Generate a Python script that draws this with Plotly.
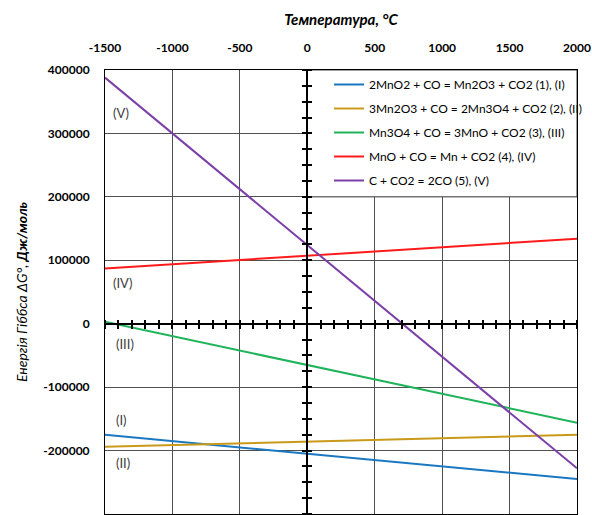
import plotly.graph_objects as go

# Temperature range (°C) and Gibbs energies (J/mol) at the ends of each straight line
temps = [-1500, 2000]
dg_1 = [-175000, -245000]   # 2MnO2 + CO = Mn2O3 + CO2
dg_2 = [-194000, -175000]   # 3Mn2O3 + CO = 2Mn3O4 + CO2
dg_3 = [3000, -156000]      # Mn3O4 + CO = 3MnO + CO2
dg_4 = [87000, 134000]      # MnO + CO = Mn + CO2
dg_5 = [388000, -228000]    # C + CO2 = 2CO

names = [
    "2MnO2 + CO = Mn2O3 + CO2 (1), (I)",
    "3Mn2O3 + CO = 2Mn3O4 + CO2 (2), (II)",
    "Mn3O4 + CO = 3MnO + CO2 (3), (III)",
    "MnO + CO = Mn + CO2 (4), (IV)",
    "C + CO2 = 2CO (5), (V)",
]
colors = ["#1a78c2", "#c99a1a", "#1fb35a", "#ff1a1a", "#7b3fa8"]

label_text = ["(V)", "(IV)", "(III)", "(I)", "(II)"]
label_x = [-1380, -1370, -1350, -1380, -1370]
label_y = [332000, 64000, -32000, -152000, -219000]

x_ticks = [-1500, -1000, -500, 0, 500, 1000, 1500, 2000]
y_ticks = [-300000, -200000, -100000, 0, 100000, 200000, 300000, 400000]

x_range = [-1500, 2000]
y_range = [-300000, 400000]
zero_pos = 1500 / 3500  # position of 0 in both normalised axes

FONT = "Lato"

fig = go.Figure()
for i, (vals, name) in enumerate(zip([dg_1, dg_2, dg_3, dg_4, dg_5], names)):
    fig.add_trace(go.Scatter(x=temps, y=vals, mode="lines", name=name,
                             line=dict(color=colors[i], width=2),
                             legendgroup=f"g{i}", hoverinfo="skip"))

# dummy traces so the crossing axes through zero are drawn
for xa, ya in [("x2", "y"), ("x3", "y"), ("x", "y2"), ("x", "y3")]:
    fig.add_trace(go.Scatter(x=[None], y=[None], xaxis=xa, yaxis=ya,
                             showlegend=False, hoverinfo="skip"))

for t, xx, yy in zip(label_text, label_x, label_y):
    fig.add_annotation(x=xx, y=yy, text=t, showarrow=False,
                       font=dict(family=FONT, size=13, color="#404040"))

# white box behind the legend
fig.add_shape(type="rect", x0=0, x1=x_range[1], y0=200000, y1=y_range[1],
              xref="x", yref="y", fillcolor="white",
              line=dict(color="#404040", width=1), layer="between")

grid = "#505050"
fig.update_layout(
    width=592, height=515,
    margin=dict(l=105, r=15, t=70, b=1),
    paper_bgcolor="white", plot_bgcolor="white",
    font=dict(family=FONT, color="black"),
    title=dict(text="<b><i>Температура, °C</i></b>", x=(105 + 577) / 2 / 592,
               xanchor="center", y=1 - 20 / 515, yanchor="middle",
               font=dict(size=15, family=FONT)),
    xaxis=dict(range=x_range, side="top",
               tickvals=x_ticks, ticktext=[str(v) for v in x_ticks],
               showgrid=True, gridcolor=grid, gridwidth=1, zeroline=False,
               showline=True, mirror=True, linecolor="black", linewidth=1,
               ticks="", ticklabelstandoff=12,
               tickfont=dict(size=12, family=FONT, weight="bold")),
    yaxis=dict(range=y_range,
               tickvals=y_ticks, ticktext=[str(v) for v in y_ticks],
               showgrid=True, gridcolor=grid, gridwidth=1, zeroline=False,
               showline=True, mirror=True, linecolor="black", linewidth=1,
               ticks="", ticklabelstandoff=12,
               tickfont=dict(size=12, family=FONT, weight="bold"),
               title=dict(text="<i>Енергія Гіббса ΔG°, <b>Дж/моль</b></i>",
                          font=dict(size=14, family=FONT), standoff=12)),
    xaxis2=dict(overlaying="x", anchor="free", position=zero_pos, side="bottom",
                range=x_range, showgrid=False, zeroline=False, showticklabels=False,
                showline=True, linecolor="black", linewidth=2,
                ticks="outside", ticklen=4, tickwidth=2, tickcolor="black",
                dtick=100, tick0=0),
    xaxis3=dict(overlaying="x", anchor="free", position=zero_pos, side="top",
                range=x_range, showgrid=False, zeroline=False, showticklabels=False,
                showline=False,
                ticks="outside", ticklen=4, tickwidth=2, tickcolor="black",
                dtick=100, tick0=0),
    yaxis2=dict(overlaying="y", anchor="free", position=zero_pos, side="left",
                range=y_range, showgrid=False, zeroline=False, showticklabels=False,
                showline=True, linecolor="black", linewidth=2,
                ticks="outside", ticklen=4, tickwidth=2, tickcolor="black",
                dtick=25000, tick0=0),
    yaxis3=dict(overlaying="y", anchor="free", position=zero_pos, side="right",
                range=y_range, showgrid=False, zeroline=False, showticklabels=False,
                showline=False,
                ticks="outside", ticklen=4, tickwidth=2, tickcolor="black",
                dtick=25000, tick0=0),
    legend=dict(x=(329 - 105) / 472, y=1, xanchor="left", yanchor="top",
                bgcolor="rgba(0,0,0,0)", borderwidth=0,
                font=dict(size=12, family=FONT, color="black"),
                tracegroupgap=5, traceorder="grouped"),
    showlegend=True,
)

fig.write_html("out.html", config={"displayModeBar": False},
               post_script="document.body.style.margin='0';document.body.style.padding='0';")
